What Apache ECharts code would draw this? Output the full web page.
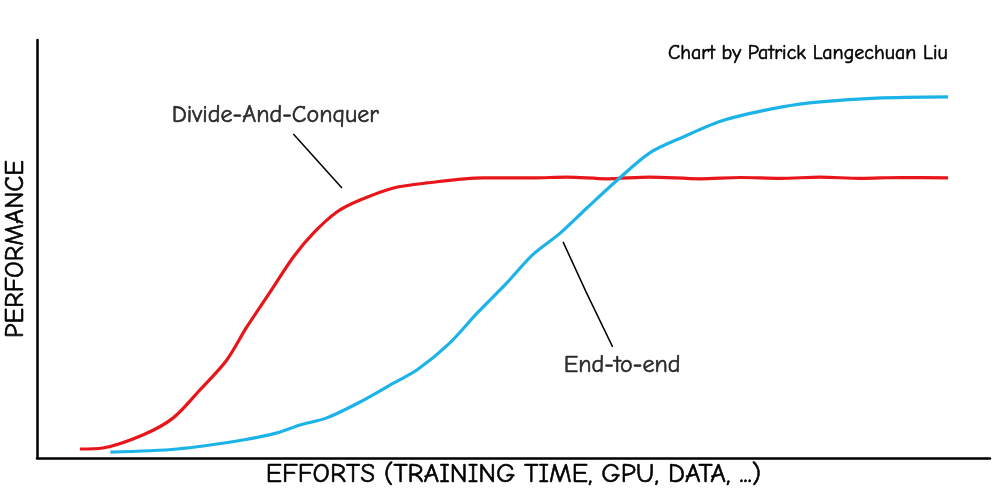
<!DOCTYPE html>
<html>
<head>
<meta charset="utf-8">
<script src="https://cdn.jsdelivr.net/npm/echarts@6/dist/echarts.min.js"></script>
<style>html,body{margin:0;padding:0;background:#fff}#c{width:1000px;height:499px}</style>
</head>
<body>
<div id="c"></div>
<script>
const divideAndConquer = [[4.5,2.15],[6.9,2.4],[11.1,5.5],[14.3,9.6],[17.1,16.3],[19.9,23.4],[22.0,31.3],[24.4,39.5],[26.9,48.1],[29.0,53.8],[31.5,58.9],[33.9,61.7],[37.4,64.6],[40.9,65.8],[46.8,67.0],[52.0,67.0],[55.6,67.2],[59.8,66.8],[64.3,67.2],[69.6,66.8],[73.8,67.1],[78.0,66.9],[82.2,67.2],[86.4,66.9],[90.6,67.1],[95.6,67.0]];
const endToEnd = [[7.7,1.4],[14.7,2.15],[21.6,4.3],[25.2,6.0],[27.6,7.9],[30.4,9.6],[33.9,13.4],[37.4,17.9],[39.9,21.1],[43.3,27.5],[46.2,34.7],[49.3,41.9],[52.0,48.6],[54.9,53.8],[57.7,59.8],[60.9,66.5],[64.3,73.0],[67.8,76.8],[72.2,80.9],[78.2,84.0],[82.2,85.2],[88.1,86.1],[95.6,86.4]];
const leaderDivide = [[26.9,77.5],[32.0,64.6]];
const leaderEnd = [[55.2,51.7],[57.6,39.8],[60.4,26.6]];
const annotations = [
  {name:'Divide-And-Conquer', value:[25.0,82.1]},
  {name:'End-to-end', value:[61.4,22.2]}
];
const xName = 'EFFORTS (TRAINING TIME, GPU, DATA, ...)';
const yName = 'PERFORMANCE';
const credit = 'Chart by Patrick Langechuan Liu';

const FONT = "'Comic Sans MS', 'Comic Neue', 'Noto Sans', sans-serif";
const chart = echarts.init(document.getElementById('c'), null, {renderer:'canvas'});
const txt = {color:'#000',fontFamily:FONT,textBorderColor:'#000',textBorderWidth:0.6};
chart.setOption({
  animation:false,
  backgroundColor:'#ffffff',
  textStyle:{fontFamily:FONT},
  grid:{left:37,right:10,top:40,bottom:41,containLabel:false,outerBoundsMode:'none'},
  graphic:[{type:'text',right:52,top:43,style:{text:credit,font:"20px "+FONT,fill:'#000',stroke:'#000',lineWidth:0.6}}],
  xAxis:{type:'value',min:0,max:100,
    name:xName,nameLocation:'middle',nameGap:3,
    nameTextStyle:Object.assign({fontSize:27,verticalAlign:'top'},txt),
    axisLine:{show:true,lineStyle:{color:'#000',width:2.5}},
    axisTick:{show:false},axisLabel:{show:false},splitLine:{show:false}},
  yAxis:{type:'value',min:0,max:100,
    name:yName,nameLocation:'middle',nameGap:8,nameRotate:90,
    nameTextStyle:Object.assign({fontSize:26,verticalAlign:'bottom'},txt),
    axisLine:{show:true,lineStyle:{color:'#000',width:2.5}},
    axisTick:{show:false},axisLabel:{show:false},splitLine:{show:false}},
  series:[
    {type:'line',data:divideAndConquer,smooth:0.3,symbol:'none',lineStyle:{color:'#e8161b',width:3.2},z:3},
    {type:'line',data:endToEnd,smooth:0.3,symbol:'none',lineStyle:{color:'#1cb4e8',width:3.2},z:4},
    {type:'line',data:leaderDivide,symbol:'none',lineStyle:{color:'#000',width:1.5},z:5},
    {type:'line',data:leaderEnd,symbol:'none',lineStyle:{color:'#000',width:1.5},z:5},
    {type:'scatter',data:annotations,symbolSize:0,z:6,
      label:Object.assign({show:true,position:'inside',formatter:p=>p.name,fontSize:24},txt)}
  ]
});
</script>
</body>
</html>
